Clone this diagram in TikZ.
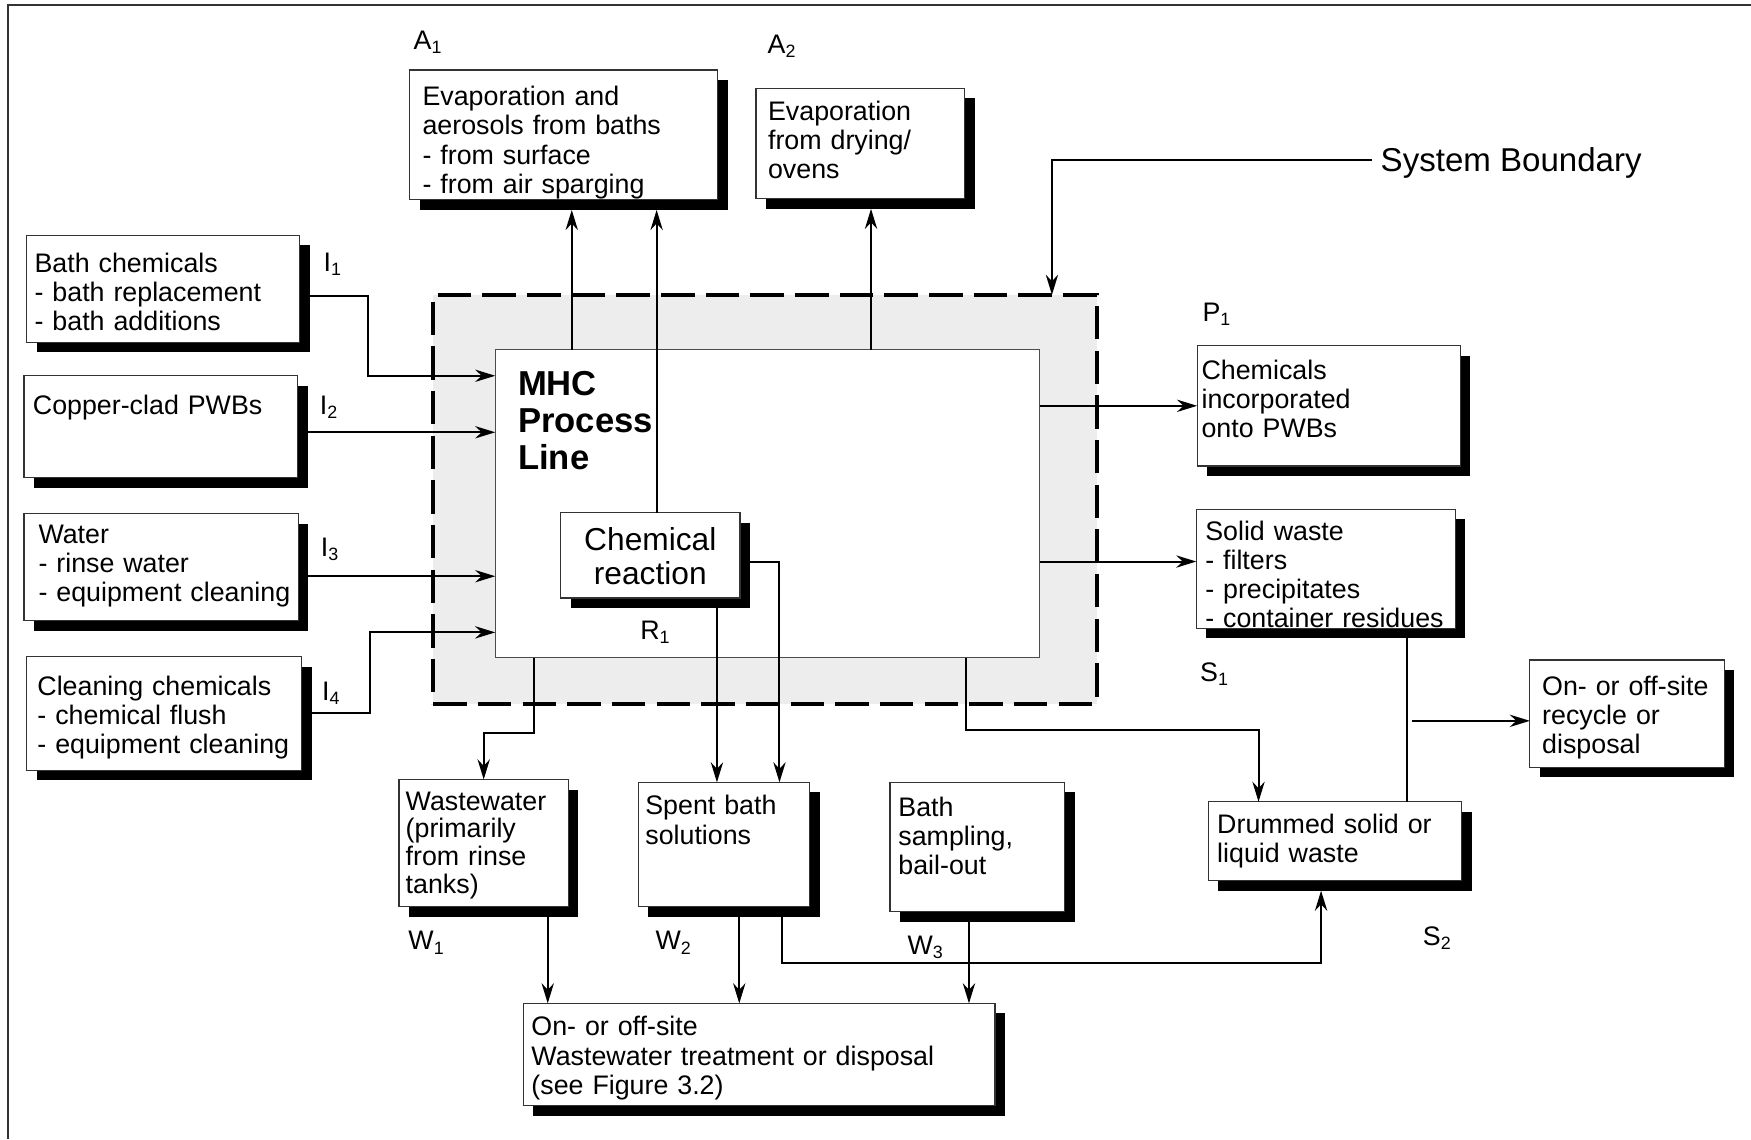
\documentclass[tikz,border=0pt]{standalone}
\usepackage{fontspec}
\setmainfont{Liberation Sans}
\usetikzlibrary{arrows.meta,calc,shadows}
\definecolor{bndgray}{gray}{0.93}
\begin{document}
\begin{tikzpicture}[x=0.5pt,y=-0.5pt,font=\fontsize{12}{13}\selectfont]
\useasboundingbox (0,0) rectangle (1568,1020);
\draw[line width=1pt, black!80] (7.5,1020) -- (7.5,4.5) -- (1568,4.5);
\node[draw, dash pattern=on 15pt off 5pt, line width=1.8pt, fill=bndgray, anchor=north west, inner sep=0pt, outer sep=0pt, minimum width=297pt, minimum height=183pt] (sysb) at (388,264) {};
\node[draw=black!70, line width=0.5pt, fill=white, anchor=north west, align=left, inner xsep=10.25pt, inner ysep=0pt, outer sep=0pt, text width=223.25pt, text height=20.5pt, text depth=117.5pt, font=\fontsize{15.5}{16.5}\selectfont\bfseries] (mhc) at (443.5,313) {MHC\\Process\\Line};
\begin{scope}[every node/.style = {draw=black!80, line width=0.5pt, fill=white, anchor=north west, align=left, inner ysep=0pt, outer sep=0pt, drop shadow={shadow xshift=4.5pt, shadow yshift=-4.5pt, fill=black, opacity=1}}]
\node[inner xsep=5.85pt, text width=126.2pt, text height=16.1pt, text depth=42.05pt] (evapb) at (366.7,62.7) {Evaporation and\\aerosols from baths\\- from surface\\- from air sparging};
\node[inner xsep=5.4pt, text width=82.7pt, text height=14.25pt, text depth=35.25pt] (evapd) at (677,79) {Evaporation\\from drying/\\ovens};
\node[inner xsep=3.5pt, text width=115.2pt, text height=16.85pt, text depth=31.15pt] (bath) at (24,210.5) {Bath chemicals\\- bath replacement\\- bath additions};
\node[inner xsep=4pt, text width=114.55pt, text height=17.25pt, text depth=28.35pt] (copper) at (21.5,336.5) {Copper-clad PWBs};
\node[inner xsep=6.5pt, text width=109.75pt, text height=13.25pt, text depth=34.75pt] (water) at (21.5,460) {Water\\- rinse water\\\mbox{- equipment cleaning}};
\node[inner xsep=4.75pt, text width=113.5pt, text height=17.2pt, text depth=33.6pt] (clean) at (24,588) {Cleaning chemicals\\- chemical flush\\\mbox{- equipment cleaning}};
\node[inner xsep=4pt, text width=72.35pt, text height=17pt, text depth=21.25pt, align=center, font=\fontsize{14.2}{15}\selectfont] (react) at (502,459) {Chemical\\reaction};
\node[inner xsep=2pt, text width=113.75pt, text height=15pt, text depth=38.9pt] (chem) at (1072,309.5) {Chemicals\\incorporated\\onto PWBs};
\node[inner xsep=4pt, text width=107.85pt, text height=13.8pt, text depth=39.55pt] (solid) at (1071.3,456) {Solid waste\\- filters\\- precipitates\\\mbox{- container residues}};
\node[inner xsep=5.5pt, text width=76pt, text height=15.7pt, text depth=32.3pt] (recyc) at (1370,591) {\mbox{On- or off-site}\\recycle or\\disposal};
\node[inner xsep=4pt, text width=105.5pt, text height=14.15pt, text depth=21.15pt] (drum) at (1082,718) {Drummed solid or\\liquid waste};
\node[inner xsep=3pt, text width=69.85pt, text height=13.7pt, text depth=43.3pt, font=\fontsize{12}{12.5}\selectfont] (wastew) at (357.3,698) {Wastewater\\(primarily\\from rinse\\tanks)};
\node[inner xsep=3.25pt, text width=70.4pt, text height=14.6pt, text depth=41.1pt] (spent) at (571.4,700.6) {Spent bath\\solutions};
\node[inner xsep=3.75pt, text width=70.7pt, text height=15.1pt, text depth=42.8pt] (sampl) at (797,700.6) {Bath\\sampling,\\bail-out};
\node[inner xsep=3.75pt, text width=203.8pt, text height=14.6pt, text depth=31.15pt] (treat) at (468.4,898.5) {On- or off-site\\Wastewater treatment or disposal\\(see Figure 3.2)};
\end{scope}
\begin{scope}[every node/.style = {anchor=base west, inner sep=0pt}]
\node (a1) at (370,44) {A\textsubscript{1}};
\node (a2) at (687,48) {A\textsubscript{2}};
\node (i1) at (289.5,243.5) {I\textsubscript{1}};
\node (i2) at (286,371) {I\textsubscript{2}};
\node (i3) at (287,498.5) {I\textsubscript{3}};
\node (i4) at (288,627) {I\textsubscript{4}};
\node (r1) at (573,572.5) {R\textsubscript{1}};
\node (p1) at (1076.5,288) {P\textsubscript{1}};
\node (s1) at (1074.3,610.4) {S\textsubscript{1}};
\node (s2) at (1273.8,846.3) {S\textsubscript{2}};
\node (w1) at (365.4,850.7) {W\textsubscript{1}};
\node (w2) at (586.6,850.7) {W\textsubscript{2}};
\node (w3) at (812.3,854.3) {W\textsubscript{3}};
\node[inner sep=3.5pt, font=\fontsize{14.8}{16}\selectfont] (sblabel) at (1229,153.8) {System Boundary};
\end{scope}
\begin{scope}[line width=0.9pt, -{Stealth[length=9pt, width=5.5pt]}]
\draw ($(bath.east)+(9,7)$) -- ++(52,0) |- ($(mhc.north west)+(0,23.5)$);
\draw ($(copper.east)+(9,5)$) -- ($(copper.east -| mhc.west)+(0,5)$);
\draw ($(water.east)+(9,8)$) -- ($(water.east -| mhc.west)+(0,8)$);
\draw ($(clean.east)+(9,0)$) -- ++(52.5,0) |- ($(mhc.south west)+(0,-22.7)$);
\draw (mhc.north -| 512,0) -- ($(evapb.south -| 512,0)+(0,9)$);
\draw (react.north -| 588,0) -- ($(evapb.south -| 588,0)+(0,9)$);
\draw (mhc.north -| 780,0) -- ($(evapd.south -| 780,0)+(0,9)$);
\draw ($(sblabel.west)+(0,-3)$) -| ($(sysb.north east)+(-40,0)$);
\draw (mhc.east |- chem.west) -- (chem.west);
\draw ($(mhc.east |- solid.west)+(0,-6.5)$) -- ($(solid.west)+(0,-6.5)$);
\draw[-] ($(solid.south -| 1260,0)+(0,9)$) -- (drum.north -| 1260,0);
\draw ($(recyc.west -| 1264,0)+(0,6.5)$) -- ($(recyc.west)+(0,6.5)$);
\draw (mhc.south -| 865,0) -- ++(0,65) -| (drum.north -| 1127,0);
\draw (mhc.south -| 478,0) -- ++(0,67) -| (wastew.north);
\draw ($(react.south -| 642,0)+(0,9)$) -- (spent.north -| 642,0);
\draw ($(react.east)+(9,6.3)$) -| (spent.north -| 698,0);
\draw ($(wastew.south -| 490.5,0)+(0,9)$) -- (treat.north -| 490.5,0);
\draw ($(spent.south -| 662,0)+(0,9)$) -- (treat.north -| 662,0);
\draw ($(sampl.south -| 867.7,0)+(0,9)$) -- (treat.north -| 867.7,0);
\draw ($(spent.south -| 700,0)+(0,9)$) -- ++(0,41.7) -| ($(drum.south -| 1183,0)+(0,9)$);
\end{scope}
\end{tikzpicture}
\end{document}
